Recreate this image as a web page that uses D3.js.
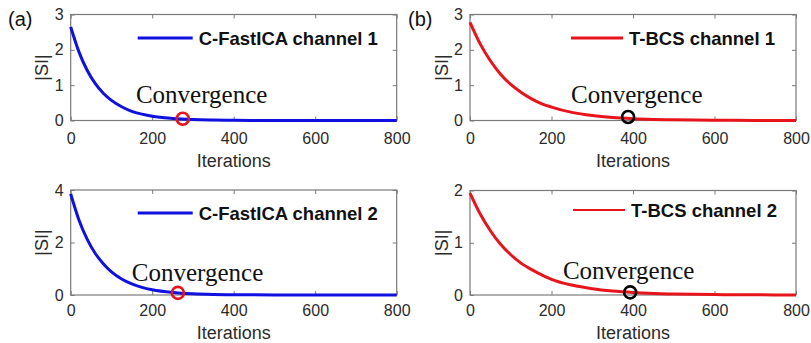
<!DOCTYPE html>
<html>
<head>
<meta charset="utf-8">
<script src="https://cdn.jsdelivr.net/npm/d3@7"></script>
<style>
  body { margin: 0; background: #fff; }
  svg { display: block; }
</style>
</head>
<body>
<div id="chart"></div>
<script>
// --------------------------------------
//  Data
// --------------------------------------

const iterTicks = [0, 200, 400, 600, 800];

const iterA1 = [0, 20, 40, 60, 80, 100, 125, 150, 175, 200, 250, 300, 350, 400, 500, 600, 800];
const isiA1  = [2.65, 1.95, 1.43, 1.05, 0.77, 0.57, 0.39, 0.26, 0.18, 0.12, 0.057, 0.026, 0.012, 0.005, 0.001, 0, 0];

const iterB1 = [0, 25, 50, 75, 100, 125, 150, 175, 200, 250, 300, 350, 400, 450, 500, 600, 700, 800];
const isiB1  = [2.78, 2.17, 1.69, 1.31, 1.02, 0.80, 0.62, 0.48, 0.38, 0.23, 0.14, 0.084, 0.051, 0.031, 0.019, 0.007, 0.0025, 0.001];

const iterA2 = [0, 20, 40, 60, 80, 100, 125, 150, 175, 200, 250, 300, 350, 400, 500, 600, 800];
const isiA2  = [3.85, 2.87, 2.14, 1.59, 1.19, 0.88, 0.61, 0.42, 0.29, 0.20, 0.097, 0.047, 0.022, 0.011, 0.0025, 0.0006, 0];

const iterB2 = [0, 25, 50, 75, 100, 125, 150, 175, 200, 250, 300, 350, 400, 450, 500, 600, 700, 800];
const isiB2  = [1.95, 1.55, 1.23, 0.97, 0.77, 0.61, 0.49, 0.39, 0.30, 0.19, 0.12, 0.076, 0.048, 0.030, 0.019, 0.0076, 0.003, 0.0012];

const seriesNames = ["C-FastICA channel 1", "T-BCS channel 1", "C-FastICA channel 2", "T-BCS channel 2"];
const yMax   = [3, 3, 4, 2];
const yTicks = [[0, 1, 2, 3], [0, 1, 2, 3], [0, 2, 4], [0, 1, 2]];

// convergence points
const convIter = [275, 388, 263, 393];
const convIsi  = [0.05, 0.1, 0.08, 0.05];

// "Convergence" text anchors (data coords)
const noteIter = [160, 248, 150, 228];
const noteIsi  = [0.49, 0.49, 0.53, 0.31];

const panelTags = ["(a)", "(b)"];

// --------------------------------------
//  Layout
// --------------------------------------

const width = 811, height = 343;

const panels = [
  { x0: 70.7, x1: 396.7, y0: 14.5,  y1: 120.5, iter: iterA1, isi: isiA1, color: "#1010e0", mark: "#e8141c", legX: 67,  legW: 55, legY: 23.5, tickPad: 12, labPad: 46.5, legLine: 3 },
  { x0: 470,  x1: 796,   y0: 14.5,  y1: 120.5, iter: iterB1, isi: isiB1, color: "#e8141c", mark: "#000000", legX: 101, legW: 52, legY: 23.5, tickPad: 12, labPad: 46.5, legLine: 3 },
  { x0: 70.7, x1: 396.7, y0: 190,   y1: 295,   iter: iterA2, isi: isiA2, color: "#1010e0", mark: "#e8141c", legX: 67,  legW: 55, legY: 23,   tickPad: 10, labPad: 43.5, legLine: 3 },
  { x0: 470,  x1: 796,   y0: 190.5, y1: 295,   iter: iterB2, isi: isiB2, color: "#e8141c", mark: "#000000", legX: 103, legW: 52, legY: 19.5, tickPad: 10, labPad: 43.5, legLine: 2 }
];

const svg = d3.select("#chart")
  .append("svg")
    .attr("width", width)
    .attr("height", height)
    .attr("viewBox", [0, 0, width, height]);

svg.append("rect").attr("width", width).attr("height", height).attr("fill", "#fff");

const tickFont = "'Liberation Sans', Arial, sans-serif";
const textCol = "#2b2b2b";

panels.forEach((p, i) => {
  const w = p.x1 - p.x0, h = p.y1 - p.y0;

  const x = d3.scaleLinear().domain([0, 800]).range([0, w]);
  const y = d3.scaleLinear().domain([0, yMax[i]]).range([h, 0]);

  const g = svg.append("g")
    .attr("transform", `translate(${p.x0}, ${p.y0})`);

  // box
  g.append("rect")
    .attr("width", w).attr("height", h)
    .attr("fill", "none")
    .attr("stroke", "#7a7a7a")
    .attr("stroke-width", 1.2);

  // axes
  const xb = g.append("g")
    .attr("transform", `translate(0, ${h})`)
    .call(d3.axisBottom(x).tickValues(iterTicks).tickFormat(d3.format("d"))
      .tickSizeInner(-4).tickSizeOuter(0).tickPadding(p.tickPad));
  const xt = g.append("g")
    .call(d3.axisTop(x).tickValues(iterTicks).tickSizeInner(-4).tickSizeOuter(0).tickFormat(""));
  const yl = g.append("g")
    .call(d3.axisLeft(y).tickValues(yTicks[i]).tickFormat(d3.format("d"))
      .tickSizeInner(-4).tickSizeOuter(0).tickPadding(7));
  const yr = g.append("g")
    .attr("transform", `translate(${w}, 0)`)
    .call(d3.axisRight(y).tickValues(yTicks[i]).tickSizeInner(-4).tickSizeOuter(0).tickFormat(""));

  [xb, xt, yl, yr].forEach(a => {
    a.select(".domain").remove();
    a.selectAll(".tick line").attr("stroke", "#7a7a7a").attr("stroke-width", 1);
    a.selectAll(".tick text")
      .attr("fill", textCol)
      .style("font-family", tickFont)
      .style("font-size", "16px");
  });

  // axis labels
  g.append("text")
    .attr("x", w / 2)
    .attr("y", h + p.labPad)
    .attr("text-anchor", "middle")
    .attr("fill", textCol)
    .style("font-family", tickFont)
    .style("font-size", "18px")
    .text("Iterations");

  g.append("text")
    .attr("transform", `translate(-22.5, ${h / 2}) rotate(-90)`)
    .attr("text-anchor", "middle")
    .attr("fill", textCol)
    .style("font-family", tickFont)
    .style("font-size", "18px")
    .text("|SI|");

  // curve
  const pts = p.iter.map((d, k) => [d, p.isi[k]]);
  g.append("path")
    .datum(pts)
    .attr("fill", "none")
    .attr("stroke", p.color)
    .attr("stroke-width", 3)
    .attr("d", d3.line().x(d => x(d[0])).y(d => y(d[1])).curve(d3.curveMonotoneX));

  // convergence marker
  g.append("circle")
    .attr("cx", x(convIter[i]))
    .attr("cy", y(convIsi[i]))
    .attr("r", 6)
    .attr("fill", "none")
    .attr("stroke", p.mark)
    .attr("stroke-width", 2.6);

  g.append("text")
    .attr("x", x(noteIter[i]))
    .attr("y", y(noteIsi[i]))
    .attr("fill", "#111")
    .style("font-family", "'Liberation Serif', 'Times New Roman', serif")
    .style("font-size", "25px")
    .text("Convergence");

  // legend
  g.append("line")
    .attr("x1", p.legX).attr("x2", p.legX + p.legW)
    .attr("y1", p.legY).attr("y2", p.legY)
    .attr("stroke", p.color)
    .attr("stroke-width", p.legLine);

  g.append("text")
    .attr("x", p.legX + p.legW + 6)
    .attr("y", p.legY)
    .attr("dy", "0.36em")
    .attr("fill", "#111")
    .style("font-family", tickFont)
    .style("font-weight", "bold")
    .style("font-size", "18.5px")
    .text(seriesNames[i]);
});

// panel tags
svg.selectAll(".tag")
  .data(panelTags)
  .join("text")
    .attr("class", "tag")
    .attr("x", (d, i) => i === 0 ? 8 : 408)
    .attr("y", 26)
    .attr("fill", "#111")
    .style("font-family", tickFont)
    .style("font-size", "20px")
    .text(d => d);
</script>
</body>
</html>
